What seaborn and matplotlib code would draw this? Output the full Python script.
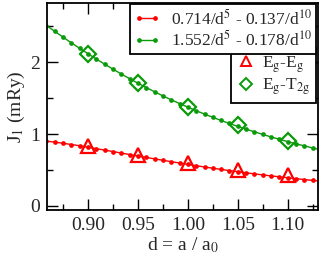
import numpy as np
import pandas as pd
import seaborn as sns
import matplotlib.pyplot as plt
from matplotlib.lines import Line2D
from matplotlib.ticker import MultipleLocator, FormatStrFormatter

# fit curves (dots every 1/120 in d)
d_fit = [0.8583, 0.8667, 0.875, 0.8833, 0.8917, 0.9, 0.9083, 0.9167, 0.925, 0.9333,
         0.9417, 0.95, 0.9583, 0.9667, 0.975, 0.9833, 0.9917, 1.0, 1.0083, 1.0167,
         1.025, 1.0333, 1.0417, 1.05, 1.0583, 1.0667, 1.075, 1.0833, 1.0917, 1.1,
         1.1083, 1.1167, 1.125, 1.1333]
red_fit = [0.901, 0.887, 0.871, 0.854, 0.836, 0.816, 0.796, 0.776, 0.756, 0.735,
           0.714, 0.694, 0.674, 0.654, 0.634, 0.615, 0.596, 0.577, 0.559, 0.541,
           0.524, 0.507, 0.491, 0.475, 0.460, 0.445, 0.431, 0.417, 0.404, 0.391,
           0.378, 0.366, 0.354, 0.343]
green_fit = [2.511, 2.430, 2.349, 2.270, 2.193, 2.118, 2.044, 1.973, 1.904, 1.836,
             1.771, 1.708, 1.648, 1.589, 1.532, 1.477, 1.425, 1.374, 1.325, 1.278,
             1.233, 1.189, 1.147, 1.107, 1.068, 1.031, 0.995, 0.960, 0.927, 0.895,
             0.864, 0.835, 0.806, 0.779]

# calculated points
d_pts = [0.90, 0.95, 1.00, 1.05, 1.10]
eg_eg = [0.84, 0.71, 0.60, 0.50, 0.43]
eg_t2g = [2.12, 1.71, 1.38, 1.12, 0.90]

red_label = r'0.714/d$^{5}$ - 0.137/d$^{10}$'
green_label = r'1.552/d$^{5}$ - 0.178/d$^{10}$'
tri_label = r'E$_{\mathrm{g}}$-E$_{\mathrm{g}}$'
dia_label = r'E$_{\mathrm{g}}$-T$_{\mathrm{2g}}$'

RED = '#ff0000'
GREEN = '#0a9a0a'

sns.set_style('ticks')
plt.rcParams['font.family'] = ['Liberation Serif', 'DejaVu Serif']
plt.rcParams['mathtext.fontset'] = 'stix'
plt.rcParams['font.size'] = 14

fig = plt.figure(figsize=(3.27, 2.62), dpi=100)
ax = fig.add_axes([0.1437, 0.198, 0.829, 0.789])

fits = pd.DataFrame({'d': d_fit, 'red': red_fit, 'green': green_fit})
pts = pd.DataFrame({'d': d_pts, 'egeg': eg_eg, 'egt2g': eg_t2g})

sns.lineplot(data=fits, x='d', y='red', ax=ax, color=RED, lw=1.0,
             marker='o', markersize=3.4, markeredgewidth=0)
sns.lineplot(data=fits, x='d', y='green', ax=ax, color=GREEN, lw=1.0,
             marker='o', markersize=3.4, markeredgewidth=0)
ax.plot(pts['d'], pts['egeg'], ls='none', marker='^', ms=10, mfc='none',
        mec=RED, mew=1.6)
ax.plot(pts['d'], pts['egt2g'], ls='none', marker='D', ms=8.5, mfc='none',
        mec=GREEN, mew=1.6)

ax.set_xlim(0.8588, 1.1305)
ax.set_ylim(-0.06, 2.82)
ax.xaxis.set_major_locator(MultipleLocator(0.05))
ax.xaxis.set_minor_locator(MultipleLocator(0.025))
ax.xaxis.set_major_formatter(FormatStrFormatter('%.2f'))
ax.yaxis.set_major_locator(MultipleLocator(1))
ax.yaxis.set_minor_locator(MultipleLocator(0.5))
ax.tick_params(which='both', direction='in', top=True, right=True,
               width=1.0, color='black', labelsize=14, pad=5)
ax.tick_params(which='major', length=8)
ax.tick_params(which='minor', length=4.5)
for s in ax.spines.values():
    s.set_linewidth(1.3)
    s.set_color('black')

ax.set_xlabel(r'd = a / a$_{0}$', fontsize=14, labelpad=1)
ax.set_ylabel(r'J$_{1}$ (mRy)', fontsize=14, labelpad=2)

h_lines = [Line2D([], [], color=RED, lw=1.0, marker='o', ms=3.4, mew=0),
           Line2D([], [], color=GREEN, lw=1.0, marker='o', ms=3.4, mew=0)]
h_marks = [Line2D([], [], ls='none', marker='^', ms=7.5, mfc='none', mec=RED, mew=1.4),
           Line2D([], [], ls='none', marker='D', ms=6, mfc='none', mec=GREEN, mew=1.4)]

leg2 = fig.legend(h_marks, [tri_label, dia_label], loc='upper right',
                  bbox_to_anchor=(316 / 327, 1 - 48 / 262), fontsize=12.5,
                  fancybox=False, edgecolor='black', framealpha=1,
                  handlelength=1.0, handletextpad=0.4, borderpad=0.35,
                  labelspacing=0.12, borderaxespad=0)
leg2.get_frame().set_linewidth(1.3)
leg1 = fig.legend(h_lines, [red_label, green_label], loc='upper right',
                  bbox_to_anchor=(316 / 327, 1 - 4 / 262), fontsize=12.5,
                  fancybox=False, edgecolor='black', framealpha=1,
                  handlelength=1.5, handletextpad=0.6, borderpad=0.25,
                  labelspacing=0.1, borderaxespad=0, numpoints=2)
leg1.get_frame().set_linewidth(1.3)

fig.savefig('out.png', dpi=100)
